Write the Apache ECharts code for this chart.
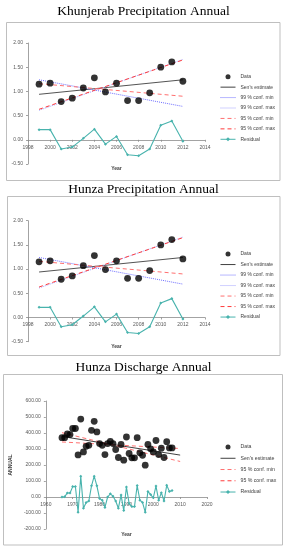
<!DOCTYPE html>
<html>
<head>
<meta charset="utf-8">
<script src="https://cdn.jsdelivr.net/npm/echarts@6/dist/echarts.min.js"></script>
<style>html,body{margin:0;padding:0;background:#fff;}#c{width:286px;height:550px;}</style>
</head>
<body>
<div id="c"></div>
<script>
// ---------- data ----------
const titles = ['Khunjerab Precipitation Annual', 'Hunza Precipitation Annual', 'Hunza Discharge Annual'];

const precipYears = [1999, 2000, 2001, 2002, 2003, 2004, 2005, 2006, 2007, 2008, 2009, 2010, 2011, 2012];
const khunjerabData = [1.15, 1.17, 0.79, 0.86, 1.07, 1.28, 0.99, 1.17, 0.81, 0.81, 0.97, 1.50, 1.61, 1.21];
const khunjerabResidual = [0.21, 0.21, -0.19, -0.15, 0.03, 0.22, -0.09, 0.07, -0.31, -0.33, -0.19, 0.30, 0.39, -0.03];
const precipLineYears = [1999, 2012];
const khunjerabSen = [0.94, 1.24];
const khunjerab99Min = [1.24, 0.69];
const khunjerab99Max = [0.61, 1.66];
const khunjerab95Min = [1.16, 0.90];
const khunjerab95Max = [0.63, 1.65];

const hunzaPData = [1.15, 1.17, 0.79, 0.86, 1.07, 1.28, 0.99, 1.17, 0.81, 0.81, 0.97, 1.50, 1.61, 1.21];
const hunzaPResidual = [0.21, 0.21, -0.19, -0.15, 0.03, 0.22, -0.09, 0.07, -0.31, -0.33, -0.19, 0.30, 0.39, -0.03];
const hunzaPSen = [0.94, 1.24];
const hunzaP99Min = [1.24, 0.69];
const hunzaP99Max = [0.61, 1.66];
const hunzaP95Min = [1.16, 0.90];
const hunzaP95Max = [0.63, 1.65];

const dischargeYears = [1966,1967,1968,1969,1970,1971,1972,1973,1974,1975,1976,1977,1978,1979,1980,1981,1982,1983,1984,1985,1986,1987,1988,1989,1990,1991,1992,1993,1994,1995,1996,1997,1998,1999,2000,2001,2002,2003,2004,2005,2006,2007];
const dischargeData = [371,371,395,390,428,428,263,487,282,317,323,417,473,407,334,323,265,334,348,334,297,247,328,230,375,272,245,245,371,276,261,199,328,301,282,353,265,305,247,346,307,307];
const dischargeResidual = [0,2,25,25,65,66,-95,130,-70,-35,-25,70,130,70,-10,-20,-65,0,20,5,-25,-70,12,-85,62,-40,-60,-60,72,-20,-35,-95,35,15,-5,68,-20,27,-25,73,35,40];
const dischargeLineYears = [1966, 2010];
const dischargeSen = [378, 262];
const discharge95Min = [402, 222];
const discharge95Max = [344, 303];

const precipTicks = { min: -0.5, max: 2, interval: 0.5, xmin: 1998, xmax: 2014, xint: 2 };
const dischargeTicks = { min: -200, max: 600, interval: 100, xmin: 1960, xmax: 2020, xint: 10 };

// ---------- styles ----------
const C = {
  data: '#000000', sen: '#404040', b99min: '#6f6fff', b99max: '#a3a3ff',
  r95min: '#ff7070', r95max: '#ff3b3b', resid: '#48b3ad', tick: '#595959', axis: '#8c8c8c'
};
const pair = (xs, ys) => xs.map((x, i) => [x, ys[i]]);

const grids = [
  { left: 28, right: 81, top: 43, height: 121 },
  { left: 28, right: 81, top: 220.7, height: 121 },
  { left: 44, right: 79, top: 401, height: 128 }
];

function xAxisFor(i, t, gap) {
  // x axis line sits at value 0 of the y axis (Excel style crossing)
  const zeroOffset = -(0 - t.min) / (t.max - t.min) * grids[i].height;
  return {
    type: 'value', gridIndex: i, min: t.xmin, max: t.xmax, interval: t.xint,
    position: 'bottom', offset: zeroOffset,
    name: 'Year', nameLocation: 'middle', nameGap: gap,
    nameTextStyle: { fontSize: 5, fontWeight: 'bold', color: '#404040', fontFamily: 'Liberation Sans' },
    axisLine: { show: true, onZero: false, lineStyle: { color: C.axis, width: 0.8 } },
    axisTick: { show: true, length: 2, lineStyle: { color: C.axis, width: 0.8 } },
    axisLabel: { fontSize: 5, color: C.tick, margin: 5, fontFamily: 'Liberation Sans', formatter: v => String(v) },
    splitLine: { show: false }
  };
}
function yAxisFor(i, t, dec, name) {
  const a = {
    type: 'value', gridIndex: i, min: t.min, max: t.max, interval: t.interval,
    axisLine: { show: true, onZero: false, lineStyle: { color: C.axis, width: 0.8 } },
    axisTick: { show: true, length: 2, lineStyle: { color: C.axis, width: 0.8 } },
    axisLabel: { fontSize: 5, color: C.tick, margin: 5, fontFamily: 'Liberation Sans', formatter: v => v.toFixed(dec) },
    splitLine: { show: false }
  };
  if (name) {
    a.name = name; a.nameLocation = 'middle'; a.nameGap = 17; a.nameRotate = 90;
    a.nameTextStyle = { fontSize: 5, fontWeight: 'bold', color: '#404040', fontFamily: 'Liberation Sans' };
  }
  return a;
}
function lineSeries(i, name, xs, ys, color, type, width) {
  return {
    type: 'line', name, xAxisIndex: i, yAxisIndex: i, data: pair(xs, ys),
    symbol: 'none', silent: true, animation: false,
    lineStyle: { color, type, width: width || 1 }, itemStyle: { color }
  };
}
function scatterSeries(i, xs, ys) {
  return {
    type: 'scatter', name: 'Data', xAxisIndex: i, yAxisIndex: i, data: pair(xs, ys),
    symbol: 'circle', symbolSize: 6.8, itemStyle: { color: C.data }, animation: false, z: 3
  };
}
function residSeries(i, xs, ys) {
  return {
    type: 'line', name: 'Residual', xAxisIndex: i, yAxisIndex: i, data: pair(xs, ys),
    symbol: 'diamond', symbolSize: 3, showSymbol: true, animation: false,
    lineStyle: { color: C.resid, width: 1.1 }, itemStyle: { color: C.resid }
  };
}

const series = [
  scatterSeries(0, precipYears, khunjerabData),
  lineSeries(0, "Sen's estimate", precipLineYears, khunjerabSen, C.sen, 'solid', 0.9),
  lineSeries(0, '99 % conf. min', precipLineYears, khunjerab99Min, C.b99min, 'dotted', 1),
  lineSeries(0, '99 % conf. max', precipLineYears, khunjerab99Max, C.b99max, 'dotted', 1),
  lineSeries(0, '95 % conf. min', precipLineYears, khunjerab95Min, C.r95min, [4, 3], 1),
  lineSeries(0, '95 % conf. max', precipLineYears, khunjerab95Max, C.r95max, [4, 3], 1),
  residSeries(0, precipYears, khunjerabResidual),

  scatterSeries(1, precipYears, hunzaPData),
  lineSeries(1, "Sen's estimate", precipLineYears, hunzaPSen, C.sen, 'solid', 0.9),
  lineSeries(1, '99 % conf. min', precipLineYears, hunzaP99Min, C.b99min, 'dotted', 1),
  lineSeries(1, '99 % conf. max', precipLineYears, hunzaP99Max, C.b99max, 'dotted', 1),
  lineSeries(1, '95 % conf. min', precipLineYears, hunzaP95Min, C.r95min, [4, 3], 1),
  lineSeries(1, '95 % conf. max', precipLineYears, hunzaP95Max, C.r95max, [4, 3], 1),
  residSeries(1, precipYears, hunzaPResidual),

  scatterSeries(2, dischargeYears, dischargeData),
  lineSeries(2, "Sen's estimate", dischargeLineYears, dischargeSen, C.sen, 'solid', 1),
  lineSeries(2, '95 % conf. min', dischargeLineYears, discharge95Min, C.r95min, [4, 3], 1),
  lineSeries(2, '95 % conf. max', dischargeLineYears, discharge95Max, C.r95min, [4, 3], 1),
  residSeries(2, dischargeYears, dischargeResidual)
];

const legendText = { fontSize: 5, color: '#404040', fontFamily: 'Liberation Sans' };
const precipLegendNames = ['Data', "Sen's estimate", '99 % conf. min', '99 % conf. max', '95 % conf. min', '95 % conf. max', 'Residual'];
const dischargeLegendNames = ['Data', "Sen's estimate", '95 % conf. min', '95 % conf. max', 'Residual'];
const plainLineNames = ["Sen's estimate", '99 % conf. min', '99 % conf. max', '95 % conf. min', '95 % conf. max'];
function legendFor(names, top, lh, fs) {
  return {
    orient: 'vertical', left: 220, top, padding: 0, itemGap: 0, itemWidth: 15, itemHeight: 5,
    selectedMode: false,
    lineStyle: { width: 1 },
    data: names.map(n => plainLineNames.includes(n)
      ? { name: n, itemStyle: { color: 'rgba(0,0,0,0)', borderColor: 'rgba(0,0,0,0)', borderWidth: 0 } }
      : { name: n }),
    textStyle: Object.assign({}, legendText, { lineHeight: lh, fontSize: fs })
  };
}

const titleStyle = { fontSize: 13.5, fontFamily: 'Liberation Serif', fill: '#000' };
const graphic = [
  { type: 'rect', shape: { x: 6.5, y: 22.5, width: 273.5, height: 158 }, style: { fill: 'none', stroke: '#bfbfbf', lineWidth: 1 }, silent: true },
  { type: 'rect', shape: { x: 7.5, y: 196.5, width: 272.5, height: 159 }, style: { fill: 'none', stroke: '#bfbfbf', lineWidth: 1 }, silent: true },
  { type: 'rect', shape: { x: 3.5, y: 374.5, width: 279, height: 170.5 }, style: { fill: 'none', stroke: '#bfbfbf', lineWidth: 1 }, silent: true },
  { type: 'text', x: 143.5, y: 11, style: Object.assign({ text: titles[0], textAlign: 'center', textVerticalAlign: 'middle' }, titleStyle) },
  { type: 'text', x: 143.5, y: 189, style: Object.assign({ text: titles[1], textAlign: 'center', textVerticalAlign: 'middle' }, titleStyle) },
  { type: 'text', x: 143.5, y: 367, style: Object.assign({ text: titles[2], textAlign: 'center', textVerticalAlign: 'middle' }, titleStyle) }
];

const chart = echarts.init(document.getElementById('c'), null, { renderer: 'canvas' });
chart.setOption({
  backgroundColor: '#ffffff',
  animation: false,
  grid: grids,
  xAxis: [xAxisFor(0, precipTicks, 26.5), xAxisFor(1, precipTicks, 27), xAxisFor(2, dischargeTicks, 35)],
  yAxis: [yAxisFor(0, precipTicks, 2), yAxisFor(1, precipTicks, 2), yAxisFor(2, dischargeTicks, 2, 'ANNUAL')],
  legend: [
    legendFor(precipLegendNames, 71.5, 10.43, 5),
    legendFor(precipLegendNames, 248.8, 10.5, 5),
    legendFor(dischargeLegendNames, 441.4, 11.25, 5.2)
  ],
  graphic,
  series
});
</script>
</body>
</html>
